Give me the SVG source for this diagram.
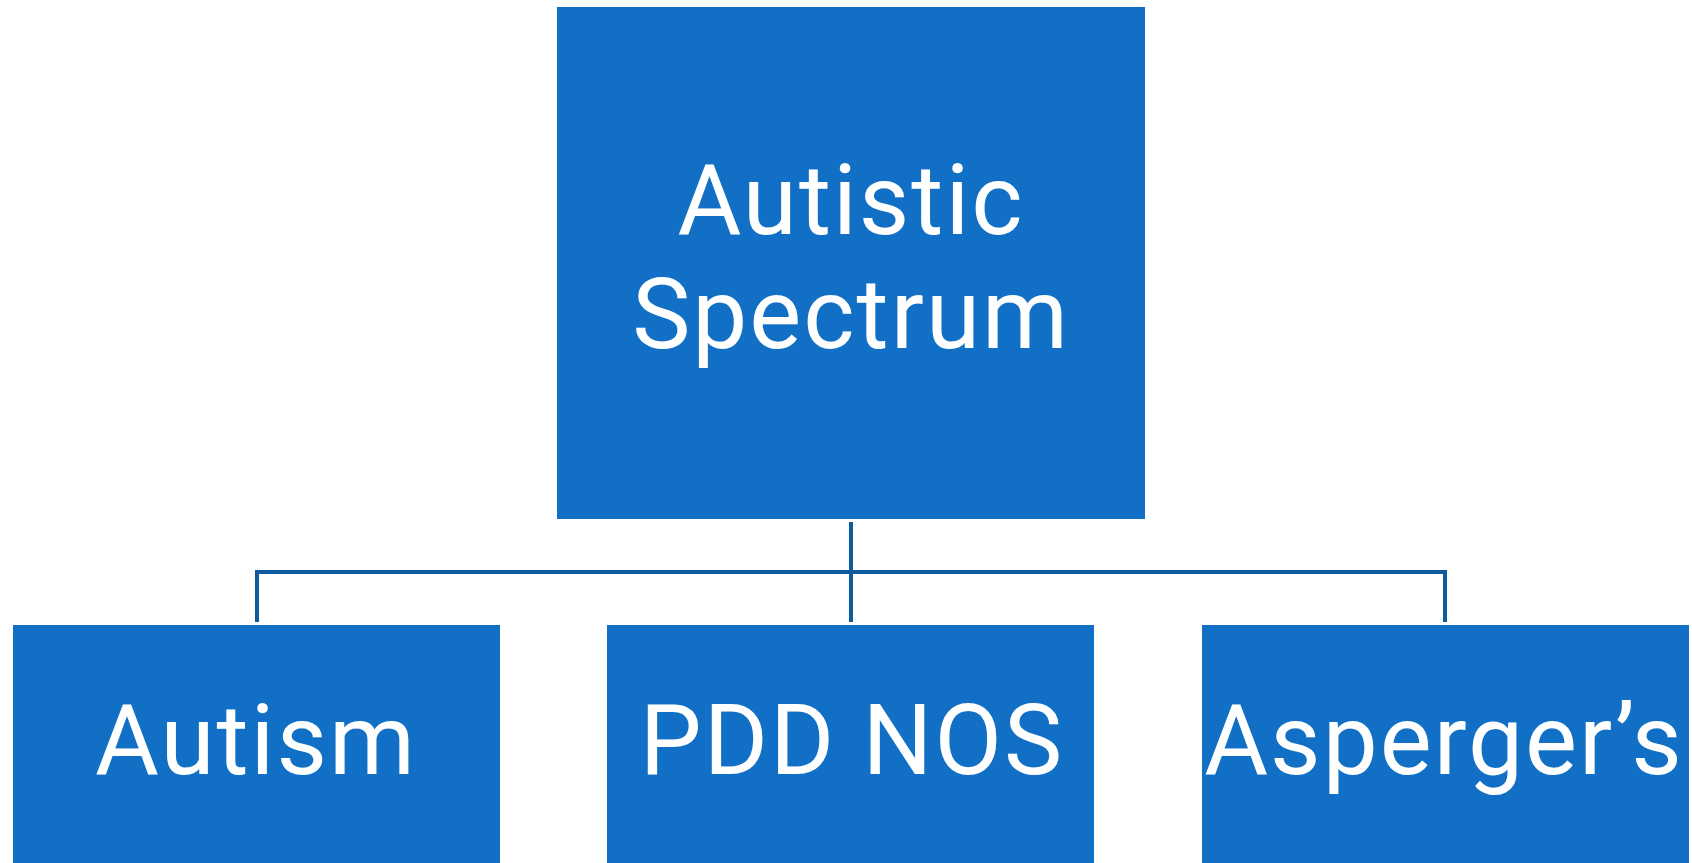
<svg xmlns="http://www.w3.org/2000/svg" width="1692" height="863" viewBox="0 0 1692 863">
  <style>
    .box { fill: #1170C6; }
    .lbl { fill: #FFFFFF; font-family: Roboto, "Noto Sans", sans-serif; font-size: 98px; letter-spacing: 2px; text-anchor: middle; }
    .link { fill: none; stroke: #0F5B9F; stroke-width: 4; }
  </style>
  <rect width="1692" height="863" fill="#FFFFFF"/>

  <g id="connectors">
    <path class="link" d="M851 522 V622"/>
    <path class="link" d="M257 622 V572 H1445 V622"/>
  </g>

  <g id="node-autistic-spectrum">
    <rect class="box" x="557" y="7" width="588" height="512"/>
    <text class="lbl"><tspan x="851" y="234">Autistic</tspan><tspan x="851" y="348">Spectrum</tspan></text>
  </g>

  <g id="node-autism">
    <rect class="box" x="13" y="625" width="487" height="250"/>
    <text class="lbl" x="256" y="774">Autism</text>
  </g>

  <g id="node-pdd-nos">
    <rect class="box" x="607" y="625" width="487" height="250"/>
    <text class="lbl" x="852" y="774">PDD NOS</text>
  </g>

  <g id="node-aspergers">
    <rect class="box" x="1202" y="625" width="487" height="250"/>
    <text class="lbl" x="1444" y="774">Asperger’s</text>
  </g>
</svg>
